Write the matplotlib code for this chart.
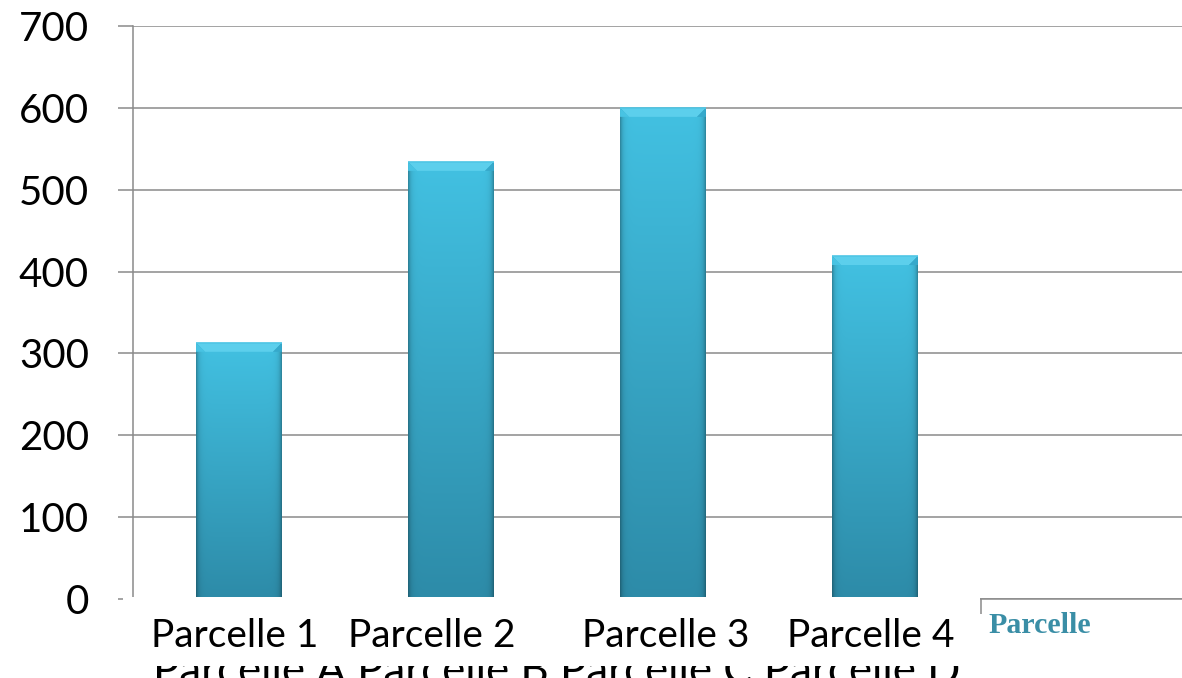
import numpy as np
import matplotlib
matplotlib.use("Agg")
import matplotlib.pyplot as plt
from matplotlib.patches import Polygon, Rectangle
from matplotlib.colors import to_rgb

# ---- data ----
categories = ["Parcelle 1", "Parcelle 2", "Parcelle 3", "Parcelle 4"]
values = [313, 534, 600, 419]
yticks = [0, 100, 200, 300, 400, 500, 600, 700]
axis_row = "Parcelle A Parcelle B Parcelle C Parcelle D"
side_label = "Parcelle"
n_slots = 5  # category slots on the axis (last one empty)

W, H = 1182, 678
GRID = "#8a8a8a"
SANS = ["Lato", "DejaVu Sans"]

fig = plt.figure(figsize=(W / 100, H / 100), dpi=100)
ax = fig.add_axes([133 / W, 79 / H, 1060 / W, 573 / H])
ax.set_xlim(-0.5, n_slots - 0.5)
ax.set_ylim(0, 700)

# ---- axes styling ----
ax.set_yticks(yticks)
ax.set_yticklabels([str(v) for v in yticks], fontsize=29, family=SANS)
ax.tick_params(axis="y", length=10.8, width=1.1, color=GRID, pad=21)
ax.yaxis.grid(True, color=GRID, lw=1.1, zorder=1)
ax.set_axisbelow(True)
ax.set_xticks(np.arange(n_slots) + 0.5)
ax.set_xticklabels([])
ax.tick_params(axis="x", length=10.5, width=1.1, color=GRID, direction="out")
for s in ["top", "right"]:
    ax.spines[s].set_visible(False)
for s in ["left", "bottom"]:
    ax.spines[s].set_color(GRID)
    ax.spines[s].set_linewidth(1.1)

# ---- bars ----
x = np.arange(len(values))
bars = ax.bar(x, values, width=0.405, color="none", edgecolor="none", zorder=3)

fig.canvas.draw()
inv = ax.transData.inverted()
p0 = inv.transform((0, 0))
p1 = inv.transform((1, 1))
px_x = p1[0] - p0[0]  # data units per pixel (x)
px_y = p1[1] - p0[1]  # data units per pixel (y)

c_top = np.array(to_rgb("#42c1e2"))
c_bot = np.array(to_rgb("#2d8ba8"))
for bar in bars:
    x0, w, h = bar.get_x(), bar.get_width(), bar.get_height()
    ny, nx = 200, 120
    t = np.linspace(0, 1, ny)[:, None, None]  # 0 bottom -> 1 top
    img = c_bot + (c_top - c_bot) * t
    img = np.repeat(img, nx, axis=1)
    wpx = w / px_x
    xs = np.linspace(0, wpx, nx)
    dist = np.minimum(xs, wpx - xs)
    shade = 1 - 0.3 * np.exp(-dist / 2.5)
    img = img * shade[None, :, None]
    im = ax.imshow(img, extent=[x0, x0 + w, 0, h], origin="lower",
                   aspect="auto", zorder=3, interpolation="bilinear")
    im.set_clip_path(bar)
    # bevelled top face
    bx, by = 9 * px_x, 9 * px_y
    top = h
    ax.add_patch(Polygon([(x0, top), (x0 + w, top), (x0 + w - bx, top - by),
                          (x0 + bx, top - by)], closed=True,
                         facecolor="#5ccfec", edgecolor="none", zorder=4))
    ax.add_patch(Polygon([(x0, top), (x0 + bx, top - by), (x0, top - by)],
                         closed=True, facecolor="#48c3e3", edgecolor="none",
                         zorder=4))
    ax.add_patch(Polygon([(x0 + w, top), (x0 + w - bx, top - by), (x0 + w, top - by)],
                         closed=True, facecolor="#36a9cb", edgecolor="none",
                         zorder=4))
    ax.plot([x0, x0 + w], [top, top], color="#4fc6e5", lw=1.2, zorder=5,
            solid_capstyle="butt")

ax.set_xlim(-0.5, n_slots - 0.5)
ax.set_ylim(0, 700)

# ---- category axis row, partly hidden below the label box ----
fig.text(557 / W, (H - 684) / H, axis_row, ha="center", va="baseline",
         fontsize=31.5, family=SANS, color="black", zorder=4)

# white label box over the bottom of the plot
fig.add_artist(Rectangle((123 / W, (H - 666) / H), (980 - 123) / W, (666 - 597) / H,
                         transform=fig.transFigure, facecolor="white",
                         edgecolor="none", zorder=5))

label_x = [235, 432, 666, 871]
for lx, lab in zip(label_x, categories):
    fig.text(lx / W, (H - 647) / H, lab, ha="center", va="baseline",
             fontsize=28, family=SANS, color="black", zorder=6)

fig.text(988 / W, (H - 633) / H, side_label, ha="left", va="baseline",
         fontsize=21.5, family="Liberation Serif", fontweight="bold",
         color="#3a8ea6", zorder=6)

fig.savefig("out.png", dpi=100)
